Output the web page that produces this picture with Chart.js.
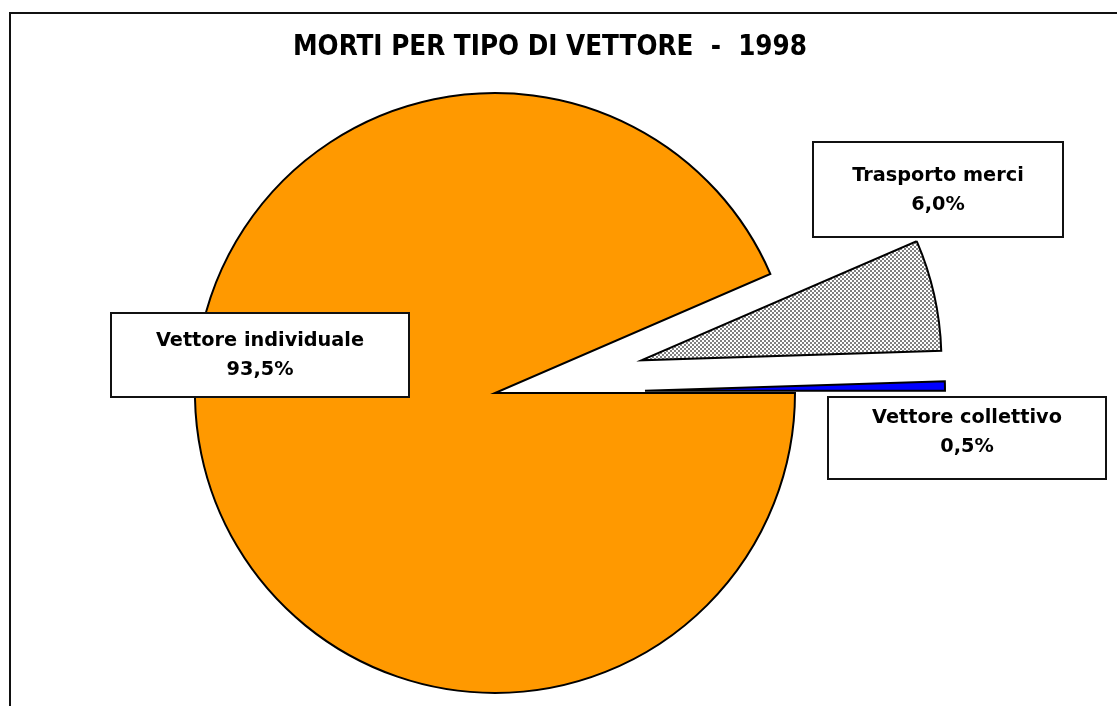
<!DOCTYPE html>
<html>
<head>
<meta charset="utf-8">
<script src="https://cdn.jsdelivr.net/npm/chart.js@4/dist/chart.umd.min.js"></script>
<style>
  html, body { margin: 0; padding: 0; background: #fff; overflow: hidden; }
  #wrap { position: relative; width: 1117px; height: 706px; overflow: hidden; }
  #frame { position: absolute; left: 9px; top: 12px; width: 1200px; height: 800px; border: 2px solid #111; }
  #chart { position: absolute; left: 0; top: 0; }
</style>
</head>
<body>
<div id="wrap">
  <div id="frame"></div>
  <canvas id="chart" width="1117" height="706"></canvas>
</div>
<script>
const categories = ["Vettore individuale", "Trasporto merci", "Vettore collettivo"];
const shares = [93.5, 6.0, 0.5];
const titleText = "MORTI PER TIPO DI VETTORE  -  1998";

const TITLE_FONT = "'DejaVu Sans Condensed', 'DejaVu Sans', sans-serif";
const LABEL_FONT = "'DejaVu Sans', sans-serif";

// fine grey checker, like the old spreadsheet pattern fill
function checker() {
    const c = document.createElement("canvas");
    c.width = 4;
    c.height = 4;
    const g = c.getContext("2d");
    g.fillStyle = "#ffffff";
    g.fillRect(0, 0, 4, 4);
    g.fillStyle = "#808080";
    g.fillRect(0, 0, 2, 2);
    g.fillRect(2, 2, 2, 2);
    return g.createPattern(c, "repeat");
}

// pull slices straight out along their middle angle
const explode = {
    id: "explode",
    afterUpdate(chart, args, opts) {
        chart.getDatasetMeta(0).data.forEach((arc, i) => {
            const d = opts.distance[i] || 0;
            const mid = (arc.startAngle + arc.endAngle) / 2;
            arc.x += Math.cos(mid) * d;
            arc.y += Math.sin(mid) * d;
        });
    }
};

// title and boxed labels
const boxLabels = {
    id: "boxLabels",
    afterDatasetsDraw(chart, args, opts) {
        const ctx = chart.ctx;
        const ds = chart.data.datasets[0];
        ctx.save();
        ctx.fillStyle = "#000";
        ctx.textAlign = "center";
        ctx.textBaseline = "middle";
        ctx.font = "bold 27.5px " + TITLE_FONT;
        ctx.fillText(titleText, opts.titleX, opts.titleY);

        opts.boxes.forEach((b, i) => {
            ctx.fillStyle = "#fff";
            ctx.strokeStyle = "#111";
            ctx.lineWidth = 2;
            ctx.fillRect(b.x, b.y, b.w, b.h);
            ctx.strokeRect(b.x, b.y, b.w, b.h);
            ctx.fillStyle = "#000";
            ctx.font = "bold 19.3px " + LABEL_FONT;
            const cx = b.x + b.w / 2;
            const cy = b.y + b.h / 2 + b.dy;
            ctx.fillText(chart.data.labels[i], cx, cy - 14);
            ctx.fillText(ds.data[i].toFixed(1).replace(".", ",") + "%", cx, cy + 15);
        });
        ctx.restore();
    }
};

new Chart(document.getElementById("chart"), {
    type: "pie",
    data: {
        labels: categories,
        datasets: [{
            data: shares,
            backgroundColor: ["#ff9900", checker(), "#0000ff"],
            borderColor: "#000",
            borderWidth: 2,
            borderJoinStyle: "miter",
            hoverOffset: 0
        }]
    },
    options: {
        responsive: false,
        animation: false,
        devicePixelRatio: 1,
        rotation: 90,
        radius: 300,
        layout: { padding: { top: 80, bottom: 0, left: 0, right: 127 } },
        events: [],
        plugins: {
            legend: { display: false },
            tooltip: { enabled: false },
            explode: { distance: [0, 150, 150] },
            boxLabels: {
                titleX: 550,
                titleY: 48,
                boxes: [
                    { x: 111, y: 313, w: 298, h: 84, dy: 0 },
                    { x: 813, y: 142, w: 250, h: 95, dy: 0 },
                    { x: 828, y: 397, w: 278, h: 82, dy: -6 }
                ]
            }
        }
    },
    plugins: [explode, boxLabels]
});
</script>
</body>
</html>
